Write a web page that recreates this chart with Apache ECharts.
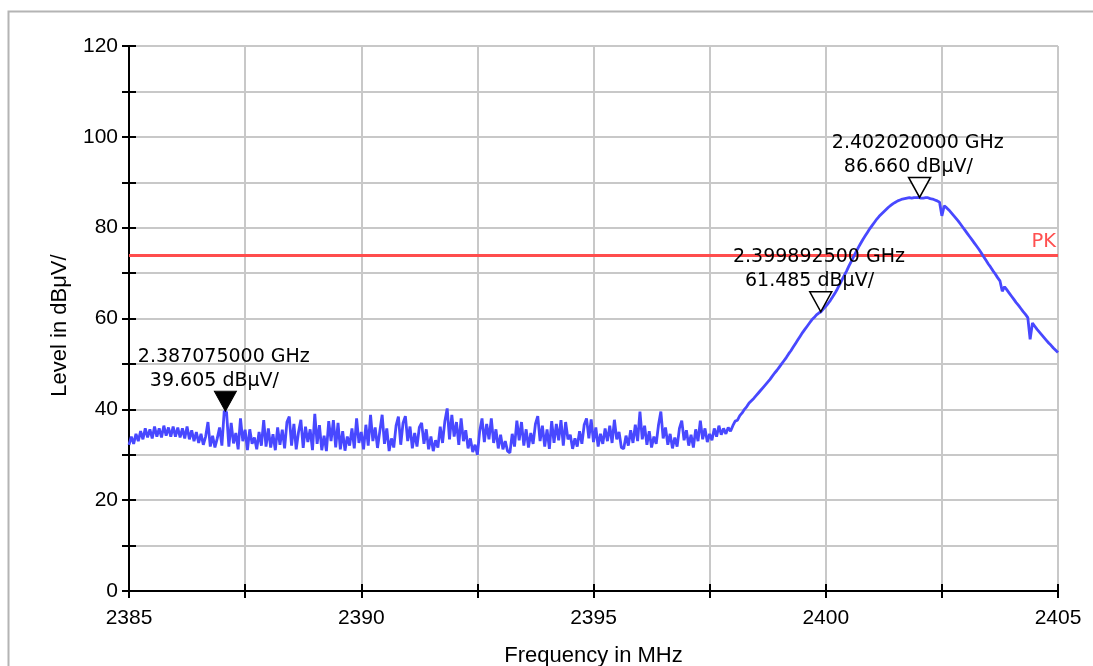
<!DOCTYPE html>
<html>
<head>
<meta charset="utf-8">
<script src="https://cdn.jsdelivr.net/npm/echarts@6/dist/echarts.min.js"></script>
<style>
html,body{margin:0;padding:0;background:#fff;}
#chart{width:1093px;height:666px;}
</style>
</head>
<body>
<div id="chart"></div>
<script>
// Sweep: start frequency (MHz) and step (MHz) of the measured trace
const sweepStart = 2385.0;
const sweepStep = 0.05;
// Measured levels in dBµV, one per sweep point (2385.00 ... 2405.00)
const levels = [
  // 2385
  32.2, 34.0, 32.4, 34.6, 33.0, 35.2, 33.4, 35.8, 33.8, 35.6, 33.6, 36.2, 34.0, 35.8, 33.8, 36.4, 34.2, 36.0, 34.0, 36.2,
  // 2386
  34.0, 36.0, 33.8, 35.8, 33.6, 36.2, 33.4, 35.4, 33.0, 35.0, 32.6, 34.6, 32.2, 34.0, 37.2, 31.8, 34.2, 31.6, 33.6, 36.0,
  // 2387
  32.0, 39.6, 39.4, 31.8, 37.0, 32.5, 34.8, 31.2, 38.0, 33.0, 35.5, 31.0, 35.6, 32.4, 33.8, 31.2, 35.0, 32.0, 37.6, 31.8,
  // 2388
  35.8, 31.6, 34.5, 31.0, 36.0, 32.2, 35.5, 31.4, 37.2, 38.4, 32.0, 36.8, 31.2, 35.0, 37.7, 31.5, 36.2, 32.8, 35.6, 31.0,
  // 2389
  39.0, 32.4, 36.5, 31.0, 34.2, 30.8, 37.4, 33.0, 37.6, 31.6, 37.0, 31.2, 35.2, 30.9, 34.0, 32.0, 35.8, 31.4, 38.0, 32.6,
  // 2390
  35.0, 31.2, 36.6, 32.0, 38.8, 33.0, 36.0, 31.5, 35.2, 38.8, 32.4, 35.8, 30.8, 33.6, 31.6, 36.4, 38.4, 32.2, 37.0, 38.5,
  // 2391
  33.0, 36.2, 31.4, 34.8, 31.8, 36.0, 37.0, 32.4, 35.6, 31.2, 34.0, 30.8, 33.2, 31.6, 36.2, 32.6, 37.4, 40.2, 33.4, 38.8,
  // 2392
  34.0, 37.2, 32.2, 38.0, 33.0, 35.4, 31.4, 33.6, 30.6, 32.2, 30.0, 35.2, 38.0, 32.8, 36.8, 33.4, 38.0, 32.6, 35.6, 31.4,
  // 2393
  34.4, 31.2, 33.0, 30.8, 30.4, 34.6, 31.8, 37.5, 33.2, 37.2, 32.0, 35.6, 31.6, 34.8, 32.4, 36.8, 38.5, 33.0, 36.4, 31.8,
  // 2394
  35.6, 31.3, 37.4, 32.6, 36.8, 33.2, 37.6, 32.0, 37.2, 33.4, 34.4, 31.3, 33.6, 31.8, 35.2, 32.4, 36.6, 38.0, 33.6, 37.8,
  // 2395
  32.8, 36.0, 31.8, 34.6, 32.4, 35.8, 33.0, 36.4, 32.6, 37.7, 33.4, 35.0, 31.6, 31.3, 34.2, 32.0, 35.4, 32.6, 36.6, 33.0,
  // 2396
  39.5, 33.4, 36.4, 32.2, 35.2, 31.6, 34.0, 32.4, 36.6, 39.5, 33.6, 36.0, 32.2, 34.6, 31.4, 33.8, 31.8, 35.8, 37.5, 33.2,
  // 2397
  35.4, 32.0, 34.4, 31.6, 35.6, 33.0, 37.5, 33.4, 35.8, 32.8, 34.6, 33.2, 35.8, 34.0, 36.4, 34.4, 35.8, 34.6, 36.0, 35.2,
  // 2398
  36.4, 37.4, 37.6, 38.6, 39.2, 40.0, 40.6, 41.4, 41.9, 42.4, 43.0, 43.6, 44.2, 44.8, 45.4, 46.0, 46.6, 47.3, 48.0, 48.6,
  // 2399
  49.3, 50.0, 50.7, 51.4, 52.2, 52.9, 53.7, 54.5, 55.3, 56.1, 56.9, 57.6, 58.3, 59.0, 59.7, 60.2, 60.8, 61.2, 61.5, 62.1,
  // 2400
  62.7, 63.3, 64.0, 64.8, 65.6, 66.5, 67.5, 68.5, 69.5, 70.5, 71.6, 72.6, 73.6, 74.6, 75.6, 76.5, 77.4, 78.2, 79.0, 79.8,
  // 2401
  80.5, 81.2, 81.9, 82.5, 83.0, 83.5, 84.0, 84.5, 84.9, 85.3, 85.6, 85.9, 86.1, 86.3, 86.4, 86.5, 86.6, 86.5, 86.6, 86.6,
  // 2402
  86.66, 86.5, 86.5, 86.6, 86.6, 86.4, 86.3, 86.1, 85.9, 85.6, 82.6, 84.8, 84.4, 83.9, 83.3, 82.7, 82.1, 81.5, 80.8, 80.1,
  // 2403
  79.4, 78.7, 78.0, 77.3, 76.6, 75.9, 75.2, 74.4, 73.6, 72.8, 72.0, 71.3, 70.5, 69.8, 69.0, 68.3, 66.0, 67.0, 66.3, 65.6,
  // 2404
  64.9, 64.2, 63.5, 62.9, 62.2, 61.5, 60.9, 60.2, 55.4, 59.0, 58.3, 57.6, 57.0, 56.4, 55.8, 55.2, 54.6, 54.1, 53.5, 53.0,
  // 2405
  52.5
];

// Markers
const markerFreqs = [2387.075, 2399.8925, 2402.02];           // MHz
const markerLevels = [39.605, 61.485, 86.660];                 // dBµV
const markerFreqText = ['2.387075000 GHz', '2.399892500 GHz', '2.402020000 GHz'];
const markerLevelText = ['39.605 dBμV/', '61.485 dBμV/', '86.660 dBμV/'];
const markerFilled = [true, false, false];

// Limit line
const limitLevel = 74;
const limitName = 'PK';

// Axis tick labels
const xTickLabels = [2385, 2390, 2395, 2400, 2405];
const yTickLabels = [0, 20, 40, 60, 80, 100, 120];

const trace = levels.map((v, i) => [+(sweepStart + i * sweepStep).toFixed(3), v]);
const markers = markerFreqs.map((f, i) => ({
  value: [f, markerLevels[i]],
  itemStyle: markerFilled[i]
    ? { color: '#000', borderColor: '#000', borderWidth: 1, opacity: 1 }
    : { color: '#fff', borderColor: '#000', borderWidth: 1.5, opacity: 1 },
  label: { formatter: '{a|' + markerFreqText[i] + '}\n{b|' + markerLevelText[i] + '}' }
}));

const axisFont = 'Liberation Sans, Arial, sans-serif';
const markFont = 'DejaVu Sans, Verdana, sans-serif';

const chart = echarts.init(document.getElementById('chart'), null, { renderer: 'canvas' });
chart.setOption({
  animation: false,
  backgroundColor: '#fff',
  graphic: [{
    type: 'rect', left: 6, top: 9, z: -10, silent: true,
    shape: { width: 1200, height: 800 },
    style: { fill: 'none', stroke: '#b4b4b4', lineWidth: 2 }
  }],
  grid: { left: 129, right: 35, top: 46, bottom: 75, outerBoundsMode: 'none', containLabel: false },
  xAxis: [{
    type: 'value', min: 2385, max: 2405, interval: 2.5,
    name: 'Frequency in MHz', nameLocation: 'middle', nameGap: 54,
    nameTextStyle: { fontFamily: axisFont, fontSize: 22, color: '#000' },
    axisLine: { show: true, onZero: false, lineStyle: { color: '#000', width: 2 } },
    axisTick: { show: true, length: 7, lineStyle: { color: '#000', width: 2 } },
    axisLabel: {
      margin: 17, fontFamily: axisFont, fontSize: 21, color: '#000',
      formatter: v => xTickLabels.indexOf(Math.round(v * 1000) / 1000) >= 0 ? String(v) : ''
    },
    splitLine: { show: true, lineStyle: { color: '#c8c8c8', width: 2 } }
  }, {
    type: 'value', min: 2385, max: 2405, interval: 2.5, position: 'bottom',
    axisLine: { show: false }, axisLabel: { show: false }, splitLine: { show: false },
    axisTick: { show: true, inside: true, length: 7, lineStyle: { color: '#000', width: 2 } }
  }],
  yAxis: [{
    type: 'value', min: 0, max: 120, interval: 10,
    name: 'Level in dBμV/', nameLocation: 'middle', nameGap: 58, nameRotate: 90,
    nameTextStyle: { fontFamily: axisFont, fontSize: 22, color: '#000', padding: [0, 14, 0, 0] },
    axisLine: { show: true, onZero: false, lineStyle: { color: '#000', width: 2 } },
    axisTick: { show: true, length: 7, lineStyle: { color: '#000', width: 2 } },
    axisLabel: {
      margin: 11, fontFamily: axisFont, fontSize: 21, color: '#000',
      formatter: v => yTickLabels.indexOf(v) >= 0 ? String(v) : ''
    },
    splitLine: { show: true, lineStyle: { color: '#c8c8c8', width: 2 } }
  }, {
    type: 'value', min: 0, max: 120, interval: 10, position: 'left',
    axisLine: { show: false }, axisLabel: { show: false }, splitLine: { show: false },
    axisTick: { show: true, inside: true, length: 7, lineStyle: { color: '#000', width: 2 } }
  }],
  series: [{
    type: 'line',
    data: trace,
    showSymbol: false, z: 3,
    lineStyle: { color: '#4848ff', width: 2.8 },
    markLine: {
      silent: true, symbol: 'none', z: 2,
      lineStyle: { color: '#ff4d4d', width: 3, type: 'solid', opacity: 1 },
      label: {
        show: true, position: 'insideEndTop', distance: [2, 3],
        formatter: limitName, color: '#ff5050', fontFamily: markFont, fontSize: 19.5
      },
      emphasis: { disabled: true },
      data: [{ yAxis: limitLevel }]
    }
  }, {
    type: 'scatter',
    data: markers, z: 5,
    symbol: 'path://M0,0 L22,0 L11,20 Z',
    symbolSize: [22, 20],
    symbolOffset: [0, -10],
    itemStyle: { opacity: 1 },
    label: {
      show: true, position: [-76, -46], align: 'left', verticalAlign: 'top', color: '#000', opacity: 1,
      rich: {
        a: { fontFamily: markFont, fontSize: 19, color: '#000', lineHeight: 24 },
        b: { fontFamily: markFont, fontSize: 19, color: '#000', lineHeight: 24, padding: [0, 0, 0, 12] }
      }
    }
  }]
});
</script>
</body>
</html>
